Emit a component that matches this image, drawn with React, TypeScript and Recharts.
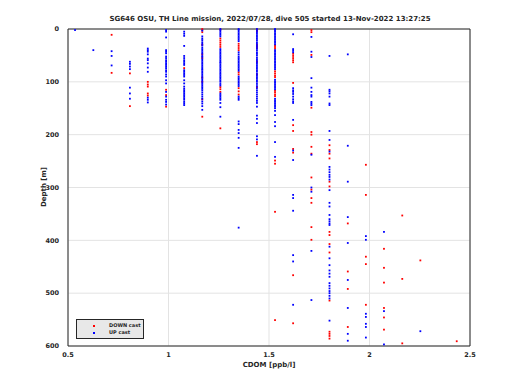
import React from 'react';
import {
  ScatterChart,
  Scatter,
  XAxis,
  YAxis,
  CartesianGrid,
  ReferenceLine,
} from 'recharts';

// CDOM sensor output is quantized, so every sample falls on one of these steps
const CDOM_LEVELS = [
  0.535, 0.626, 0.717, 0.808, 0.897, 0.988, 1.078, 1.168, 1.258, 1.349, 1.44,
  1.53, 1.62, 1.711, 1.801, 1.892, 1.982, 2.072, 2.163, 2.253, 2.434,
];

// depths [m] per CDOM level, down cast
const DOWN_DEPTHS: number[][] = [
  [],
  [],
  [11, 83],
  [84, 146],
  [100, 105, 109, 122, 126],
  [115, 125, 147],
  [74],
  [0, 2, 6, 30, 48, 55, 92, 100, 133, 166],
  [1, 18, 22, 26, 30, 34, 110, 114, 119, 188],
  [28, 32, 36, 40, 82, 86, 112, 118, 124],
  [1, 4, 30, 33, 36, 62, 86, 110, 214, 218],
  [31, 34, 37, 80, 84, 88, 91, 117, 120, 124, 127, 249, 255, 346, 551],
  [47, 51, 55, 59, 63, 102, 182, 193, 227, 234, 466, 557],
  [2, 6, 49, 149, 195, 200, 223, 236, 281, 304, 320, 329, 375, 399],
  [220, 229, 236, 245, 289, 298, 384, 390, 407, 423, 514, 573, 577, 581, 586],
  [368, 459, 492, 564],
  [257, 314, 431, 445, 522],
  [416, 452, 480, 528, 546, 569],
  [353, 473, 595],
  [438],
  [591],
];

// depths [m] per CDOM level, up cast
const UP_DEPTHS: number[][] = [
  [2],
  [40],
  [42, 51, 69],
  [62, 66, 71, 76, 111, 122, 132],
  [37, 40, 43, 48, 56, 59, 65, 73, 81, 130, 134, 139],
  [2, 5, 16, 40, 43, 46, 52, 55, 59, 62, 65, 68, 71, 74, 78, 81, 86, 90, 97, 103, 119, 128, 134, 138, 143],
  [5, 9, 13, 32, 51, 55, 59, 62, 65, 68, 78, 81, 84, 87, 90, 97, 103, 109, 113, 116, 119, 122, 125, 128, 131, 134, 138, 141, 144],
  [3, 14, 18, 21, 25, 28, 31, 35, 38, 41, 44, 47, 51, 53, 57, 60, 63, 66, 69, 72, 75, 77, 80, 83, 86, 89, 92, 95, 98, 101, 104, 107, 110, 113, 116, 120, 124, 128, 132, 137, 141, 146, 153],
  [0, 2, 5, 8, 11, 14, 38, 41, 44, 47, 50, 53, 56, 59, 62, 64, 67, 70, 73, 76, 79, 82, 85, 88, 91, 94, 97, 100, 104, 107, 122, 125, 128, 131, 134, 140, 148, 166],
  [0, 2, 5, 8, 11, 14, 17, 20, 23, 44, 48, 52, 55, 58, 61, 64, 67, 70, 73, 76, 79, 90, 93, 96, 99, 102, 105, 108, 128, 131, 134, 175, 180, 191, 197, 206, 225, 376],
  [0, 3, 6, 9, 12, 15, 18, 21, 25, 28, 31, 34, 37, 40, 44, 47, 50, 54, 57, 60, 63, 66, 69, 72, 75, 78, 81, 85, 88, 91, 94, 97, 100, 104, 108, 112, 116, 120, 124, 128, 132, 136, 140, 147, 164, 170, 178, 203, 209, 240],
  [0, 2, 5, 8, 11, 14, 17, 20, 23, 26, 29, 40, 43, 46, 49, 52, 55, 58, 61, 64, 67, 70, 73, 76, 96, 99, 102, 105, 108, 111, 114, 132, 135, 138, 141, 144, 147, 150, 155, 163, 176, 184, 214, 242],
  [10, 38, 41, 44, 112, 116, 119, 123, 128, 133, 137, 140, 172, 230, 248, 314, 320, 344, 428, 440, 522],
  [15, 43, 53, 93, 111, 119, 125, 128, 138, 141, 144, 238, 300, 308, 420, 513],
  [51, 115, 118, 122, 128, 141, 144, 193, 210, 232, 261, 266, 271, 276, 280, 285, 305, 329, 336, 352, 360, 364, 368, 371, 412, 434, 447, 457, 463, 469, 481, 486, 491, 496, 500, 505, 510, 552],
  [48, 221, 289, 356, 405, 475, 528, 577, 590],
  [392, 399, 539, 545, 558, 564, 584],
  [384, 534, 597],
  [],
  [572],
  [],
];

const X_TICKS = [0.5, 1, 1.5, 2, 2.5];
const Y_TICKS = [0, 100, 200, 300, 400, 500, 600];

const TITLE = 'SG646 OSU, TH Line mission, 2022/07/28, dive 505 started 13-Nov-2022 13:27:25';

const toPoints = (depths: number[][]) =>
  depths.flatMap((col, i) => col.map((d) => ({ cdom: CDOM_LEVELS[i], depth: d })));

const FONT = 'DejaVu Sans, sans-serif';
const TXT = '#262626';

const dot = (color: string) => (props: any) =>
  <rect x={props.cx - 0.9} y={props.cy - 0.9} width={1.8} height={1.8} fill={color} />;

export default function App() {
  const down = toPoints(DOWN_DEPTHS);
  const up = toPoints(UP_DEPTHS);
  const tickStyle = { fontSize: 6.5, fontWeight: 'bold', fill: TXT, fontFamily: FONT };

  return (
    <div style={{ position: 'absolute', left: 0, top: 0, width: 520, height: 390, background: '#fff', fontFamily: FONT }}>
      <ScatterChart width={520} height={390} margin={{ top: 29, right: 50, bottom: 24, left: 0 }}>
        <CartesianGrid stroke="#e3e3e3" strokeWidth={1} />
        <XAxis
          type="number"
          dataKey="cdom"
          domain={[0.5, 2.5]}
          ticks={X_TICKS}
          height={20}
          tick={tickStyle}
          tickLine={false}
          tickMargin={0}
          axisLine={{ stroke: '#262626' }}
          tickFormatter={(v) => String(v)}
        />
        <YAxis
          type="number"
          dataKey="depth"
          domain={[0, 600]}
          reversed
          ticks={Y_TICKS}
          width={68}
          tick={tickStyle}
          tickLine={false}
          tickMargin={3}
          axisLine={{ stroke: '#262626' }}
        />
        <ReferenceLine x={2.5} stroke="#262626" />
        <ReferenceLine y={0} stroke="#262626" />
        <Scatter name="DOWN cast" data={down} shape={dot('#ff0000')} isAnimationActive={false} />
        <Scatter name="UP cast" data={up} shape={dot('#0000ff')} isAnimationActive={false} />
      </ScatterChart>

      <div style={{ position: 'absolute', left: 0, width: 540, top: 15, textAlign: 'center', fontSize: 7, fontWeight: 'bold', color: TXT, whiteSpace: 'nowrap' }}>
        {TITLE}
      </div>
      <div style={{ position: 'absolute', left: 68, width: 402, top: 361, textAlign: 'center', fontSize: 7, fontWeight: 'bold', color: TXT, whiteSpace: 'nowrap' }}>
        CDOM [ppb/l]
      </div>
      <div
        style={{
          position: 'absolute',
          left: 45 - 50,
          top: 187 - 5,
          width: 100,
          height: 10,
          textAlign: 'center',
          transform: 'rotate(-90deg)',
          fontSize: 7,
          fontWeight: 'bold',
          color: TXT,
          whiteSpace: 'nowrap',
        }}
      >
        Depth [m]
      </div>

      {/* legend */}
      <div
        style={{
          position: 'absolute',
          left: 76,
          top: 319,
          width: 66,
          height: 18,
          background: '#e8e8e8',
          border: '1px solid #262626',
          fontSize: 5,
          fontWeight: 'bold',
          color: TXT,
        }}
      >
        {[
          ['DOWN cast', '#ff0000'],
          ['UP cast', '#0000ff'],
        ].map(([label, c], i) => (
          <div key={label} style={{ position: 'absolute', left: 0, top: 2 + i * 7, height: 7, width: 66 }}>
            <span style={{ position: 'absolute', left: 16, top: 2.5, width: 2, height: 2, background: c }} />
            <span style={{ position: 'absolute', left: 32, top: 0, lineHeight: '7px', whiteSpace: 'nowrap' }}>{label}</span>
          </div>
        ))}
      </div>
    </div>
  );
}
